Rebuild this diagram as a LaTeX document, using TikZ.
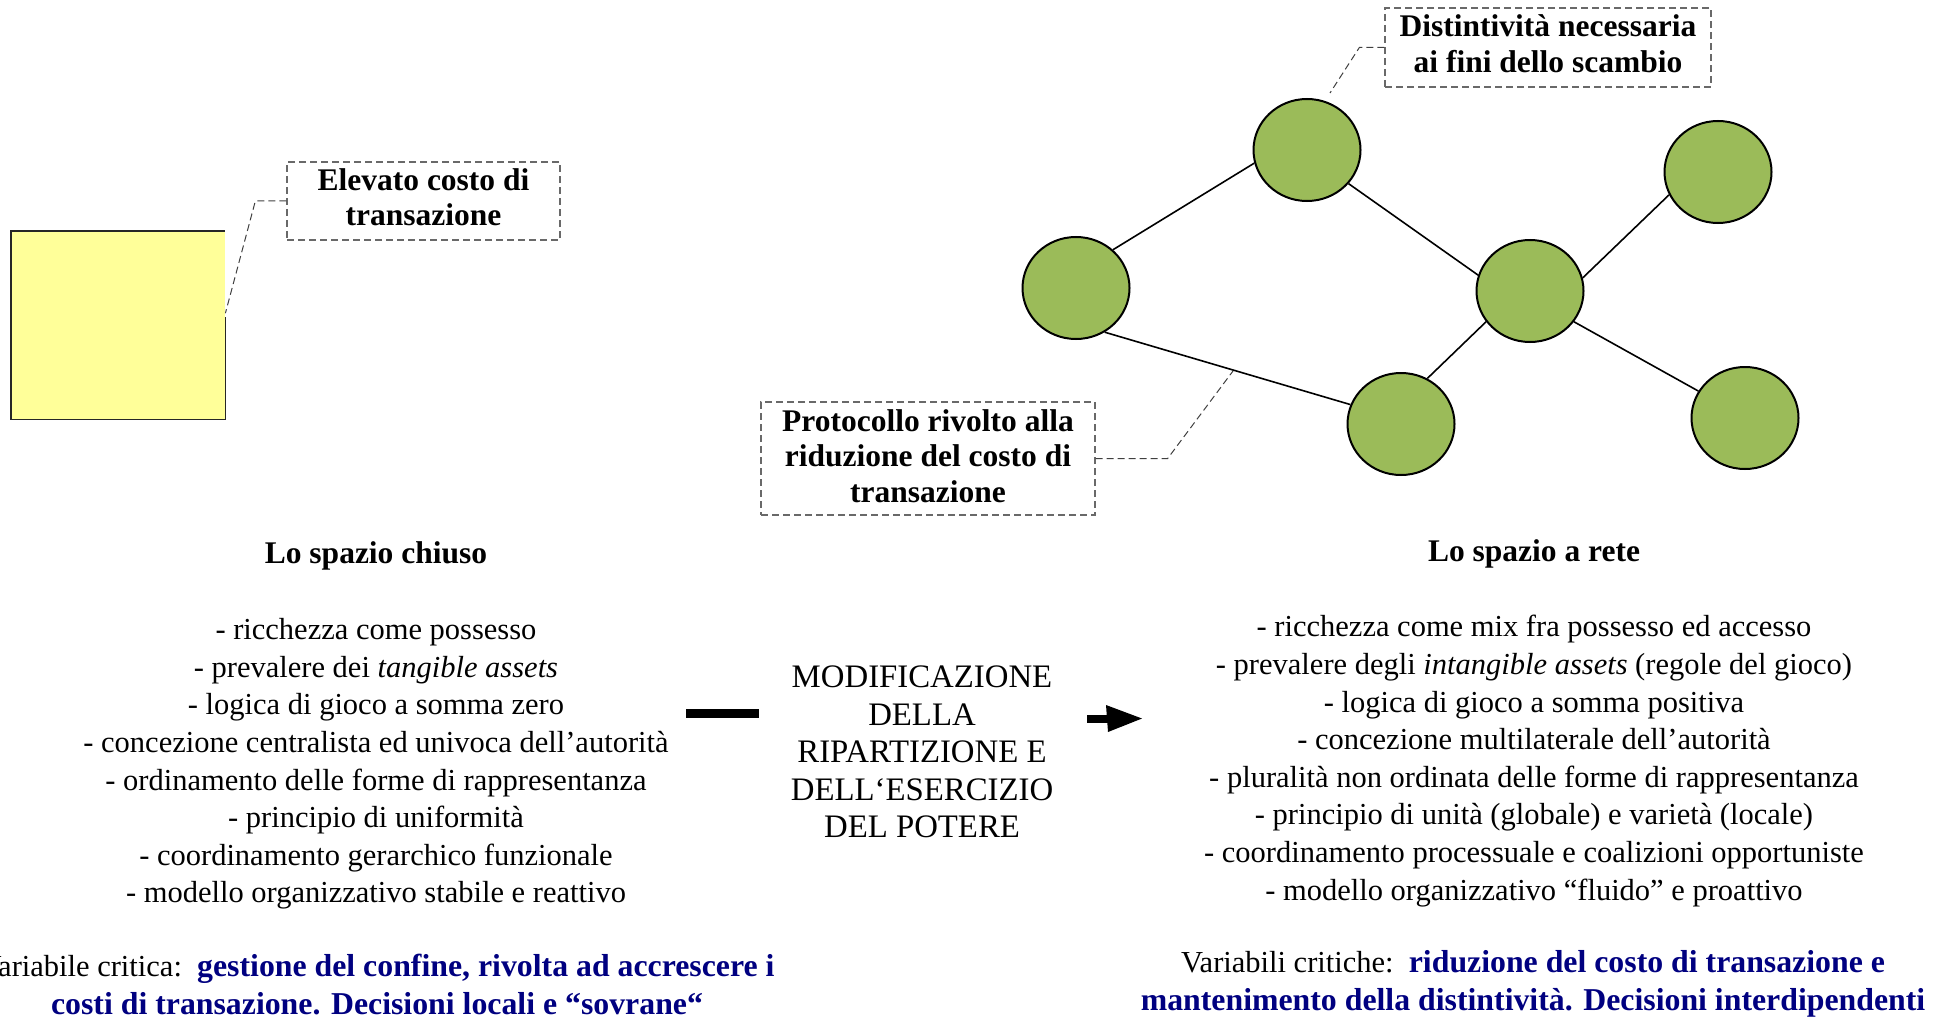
\documentclass[tikz,border=0pt]{standalone}
\usepackage{fontspec}
\setmainfont{Liberation Serif}
\usetikzlibrary{shapes.geometric}
\definecolor{navyblue}{RGB}{0,0,128}
\definecolor{leafgreen}{RGB}{155,187,89}
\definecolor{paleyellow}{RGB}{255,255,153}
\definecolor{dashgray}{RGB}{105,105,105}
\newcommand{\crittext}[1]{\textcolor{navyblue}{\bfseries\fontsize{31.8}{37}\selectfont #1}}
\begin{document}
\begin{tikzpicture}[x=1pt,y=-1pt,
  body/.style={font=\fontsize{30.5}{37.6}\selectfont, align=center, inner sep=0pt},
  midtext/.style={font=\fontsize{32.8}{37.6}\selectfont, align=center, inner sep=0pt},
  crit/.style={font=\fontsize{30.5}{38}\selectfont, align=center, inner sep=0pt},
  head/.style={font=\bfseries\fontsize{31.5}{36}\selectfont, inner sep=0pt},
  callbox/.style={draw=dashgray, line width=1.3pt, dash pattern=on 7pt off 4pt, inner sep=0pt},
  calltext/.style={font=\bfseries\fontsize{31.5}{35.5}\selectfont, align=center, inner sep=0pt},
  leader/.style={draw=black!75, line width=1pt, dash pattern=on 7pt off 4pt},
  blob/.style={ellipse, draw=black, line width=2pt, fill=leafgreen,
    minimum width=107pt, minimum height=102pt, inner sep=0pt},
  link/.style={line width=1.6pt}]
\useasboundingbox (0,0) rectangle (1951,1019);

% the closed space: a single square
\node[fill=paleyellow, minimum width=214pt, minimum height=188pt, inner sep=0pt,
  anchor=north west] (sq) at (11,231) {};
\draw[line width=1.8pt, black!85] ([yshift=8pt]sq.east) -- (sq.south east)
  -- (sq.south west) -- (sq.north west) -- (sq.north east);
\coordinate (sqtip) at ([yshift=12pt]sq.east);

\node[callbox, minimum width=273pt, minimum height=78pt] (el) at (423.5,201) {};
\node[calltext] (elt) at ([yshift=4pt]el.center) {Elevato costo di\\transazione};
\draw[leader] (el.west) -- ++(-31,0) -- (sqtip);

% the network space
\node[blob] (e1) at (1307,150) {};
\node[blob] (e2) at (1076,288) {};
\node[blob] (e3) at (1530,291) {};
\node[blob] (e4) at (1718,172) {};
\node[blob] (e5) at (1401,424) {};
\node[blob] (e6) at (1745,418) {};

\draw[link] (e2.46) -- (e1.194);
\draw[link] (e1.-39) -- (e3.163);
\draw[link] (e3.14) -- (e4.205);
\draw[link] (e3.215) -- (e5.60);
\draw[link] (e3.-35) -- (e6.150);
\draw[link] (e2.-57) -- (e5.159);

\node[callbox, minimum width=326pt, minimum height=79pt] (di) at (1548,47.5) {};
\node[calltext] (dit) at ([yshift=4pt]di.center) {Distintività necessaria\\ai fini dello scambio};
\coordinate (ditip) at (1330,93);
\draw[leader] (di.west) -- ++(-25,0) -- (ditip);

\node[callbox, minimum width=334pt, minimum height=113pt] (pr) at (928,458.5) {};
\node[calltext] (prt) at ([yshift=2.5pt]pr.center) {Protocollo rivolto alla\\riduzione del costo di\\transazione};
\coordinate (prtip) at (1233,371);
\draw[leader] (pr.east) -- ++(72,0) -- (prtip);

% headings
\node[head] (hl) at (376,556) {Lo spazio chiuso};
\node[head] (hr) at (1534,554) {Lo spazio a rete};

% characteristics of each space
\node[body] (ll) at (376,764) {- ricchezza come possesso\\
  - prevalere dei \textit{tangible assets}\\
  - logica di gioco a somma zero\\
  - concezione centralista ed univoca dell’autorità\\
  - ordinamento delle forme di rappresentanza\\
  - principio di uniformità\\
  - coordinamento gerarchico funzionale\\
  - modello organizzativo stabile e reattivo};

\node[body] (rl) at (1534,761) {- ricchezza come mix fra possesso ed accesso\\
  - prevalere degli \textit{intangible assets} (regole del gioco)\\
  - logica di gioco a somma positiva\\
  - concezione multilaterale dell’autorità\\
  - pluralità non ordinata delle forme di rappresentanza\\
  - principio di unità (globale) e varietà (locale)\\
  - coordinamento processuale e coalizioni opportuniste\\
  - modello organizzativo “fluido” e proattivo};

% transition in the middle
\node[midtext] (mid) at (922,752) {MODIFICAZIONE\\DELLA\\RIPARTIZIONE E\\DELL‘ESERCIZIO\\DEL POTERE};
\coordinate (barA) at (686,713.5);
\coordinate (barB) at (759,713.5);
\draw[line width=9pt] (barA) -- (barB);
\coordinate (arA) at (1087,718.5);
\coordinate (arB) at (1108,718.5);
\coordinate (arT) at (1142,718.5);
\draw[line width=8pt] (arA) -- (arB);
\fill ([yshift=13.5pt]arB) ++(-2,0) -- (arT) -- ([yshift=-13.5pt]arB) ++(-2,0) -- cycle;

% critical variables
\node[crit] (vl) at (377,985) {Variabile critica:\ \ \crittext{gestione del confine, rivolta ad accrescere i}\\
  \crittext{costi di transazione. Decisioni locali e “sovrane“}};
\node[crit] (vr) at (1533,984) {Variabili critiche:\ \ \crittext{riduzione del costo di transazione e}\\
  \crittext{mantenimento della distintività. Decisioni interdipendenti}};
\end{tikzpicture}
\end{document}
